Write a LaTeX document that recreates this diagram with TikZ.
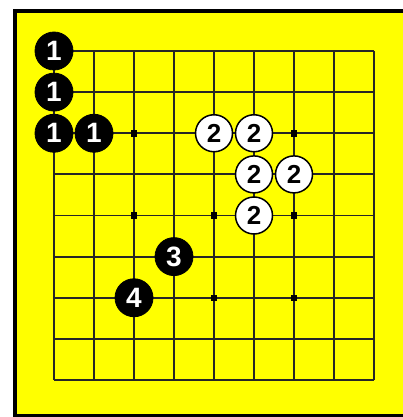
\documentclass[tikz,border=0pt]{standalone}
\usepackage{fontspec}
\setmainfont{Liberation Sans}
\definecolor{boardyellow}{RGB}{255,255,0}
\tikzset{
  gridline/.style={line width=1.8pt, draw=black!85},
  bstone/.style={circle, fill=black, draw=black, line width=0.8pt, minimum size=38pt, inner sep=0pt, text=white, font=\fontsize{28}{28}\selectfont\bfseries},
  wstone/.style={circle, fill=white, draw=black, line width=1.5pt, minimum size=37pt, inner sep=0pt, text=black, font=\fontsize{26}{26}\selectfont\bfseries},
  starpt/.style={rectangle, fill=black, minimum size=6.5pt, inner sep=0pt}
}
\begin{document}
\begin{tikzpicture}[x=1pt, y=-1pt]
\useasboundingbox (0,0) rectangle (403,417);
\begin{scope}
\clip (0,0) rectangle (403,417);
\fill[white] (0,0) rectangle (403,417);
\draw[fill=boardyellow, draw=black, line width=4pt] (14.5,11) rectangle (410,415.5);
\end{scope}
% grid
\foreach \c in {0,...,8} {
  \draw[gridline] ({54+40*\c},51) -- ({54+40*\c},380);
}
\foreach \r in {0,...,8} {
  \draw[gridline] (54,{51+41.125*\r}) -- (374,{51+41.125*\r});
}
% star points
\node[starpt] (s1) at (134,133.25) {};
\node[starpt] (s2) at (294,133.25) {};
\node[starpt] (s3) at (134,215.5) {};
\node[starpt] (s4) at (214,215.5) {};
\node[starpt] (s5) at (294,215.5) {};
\node[starpt] (s6) at (214,297.75) {};
\node[starpt] (s7) at (294,297.75) {};
% black stones
\node[bstone] (b1) at (54,51) {1};
\node[bstone] (b2) at (54,92.1) {1};
\node[bstone] (b3) at (54,133.25) {1};
\node[bstone] (b4) at (94,133.25) {1};
% white stones
\node[wstone] (w1) at (214,133.25) {2};
\node[wstone] (w2) at (254,133.25) {2};
\node[wstone] (w3) at (254,174.4) {2};
\node[wstone] (w4) at (294,174.4) {2};
\node[wstone] (w5) at (254,215.5) {2};
% later black stones
\node[bstone] (b5) at (174,256.6) {3};
\node[bstone] (b6) at (134,297.75) {4};
\end{tikzpicture}
\end{document}
